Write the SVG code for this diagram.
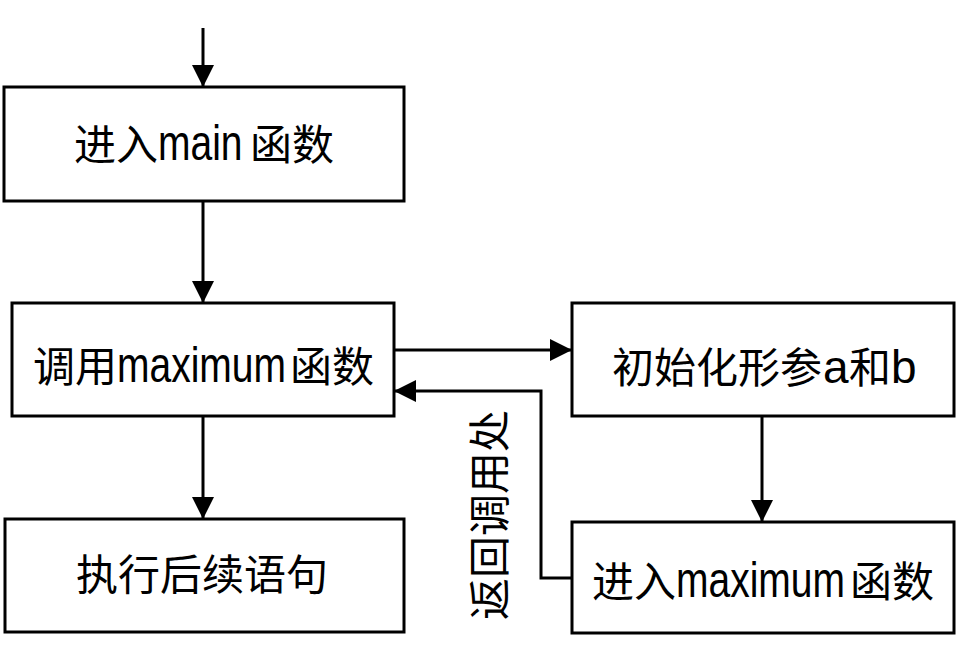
<svg xmlns="http://www.w3.org/2000/svg" width="956" height="651" viewBox="0 0 956 651">
<style>
.box{fill:#fff;stroke:#000;stroke-width:3;stroke-linejoin:miter}
.cn{font-family:"Noto Sans CJK SC","Noto Sans CJK JP",sans-serif;font-size:42px;fill:#000}
.lt{font-family:"Liberation Sans",Arial,sans-serif;font-size:50px;fill:#000}
.la{font-family:"Liberation Sans",Arial,sans-serif;font-size:46px}
.conn{fill:none;stroke:#000;stroke-width:3}
</style>
<defs>
<marker id="ah" viewBox="0 0 22 22" refX="22" refY="11" markerWidth="22" markerHeight="22" markerUnits="userSpaceOnUse" orient="auto">
<path d="M0,0 L22,11 L0,22 z" fill="#000"/>
</marker>
</defs>
<rect width="956" height="651" fill="#fff"/>
<g id="connectors">
<path class="conn" d="M203,28 V87" marker-end="url(#ah)"/>
<path class="conn" d="M203,201 V303" marker-end="url(#ah)"/>
<path class="conn" d="M203,416 V519" marker-end="url(#ah)"/>
<path class="conn" d="M394,350 H572" marker-end="url(#ah)"/>
<path class="conn" d="M762,416 V522" marker-end="url(#ah)"/>
<path class="conn" d="M572,578 H541 V391 H394" marker-end="url(#ah)"/>
<text class="cn" transform="translate(505,515) rotate(-90)" text-anchor="middle">返回调用处</text>
</g>
<g id="n1">
<rect class="box" x="4" y="87" width="400" height="114"/>
<text class="cn" x="74" y="160">进入</text>
<text class="lt" transform="translate(158,160) scale(0.78,1)">main</text>
<text class="cn" x="250" y="160">函数</text>
</g>
<g id="n2">
<rect class="box" x="12" y="303" width="382" height="113"/>
<text class="cn" x="33" y="382">调用</text>
<text class="lt" transform="translate(117,382) scale(0.78,1)">maximum</text>
<text class="cn" x="290" y="382">函数</text>
</g>
<g id="n3">
<rect class="box" x="5" y="519" width="399" height="113"/>
<text class="cn" x="76" y="590">执行后续语句</text>
</g>
<g id="n4">
<rect class="box" x="572" y="303" width="382" height="113"/>
<text class="cn" y="383"><tspan x="612">初始化形参</tspan><tspan class="la" x="823">a</tspan><tspan x="849">和</tspan><tspan class="la" x="891">b</tspan></text>
</g>
<g id="n5">
<rect class="box" x="572" y="522" width="382" height="111"/>
<text class="cn" x="592" y="597">进入</text>
<text class="lt" transform="translate(676,597) scale(0.78,1)">maximum</text>
<text class="cn" x="850" y="597">函数</text>
</g>
</svg>
